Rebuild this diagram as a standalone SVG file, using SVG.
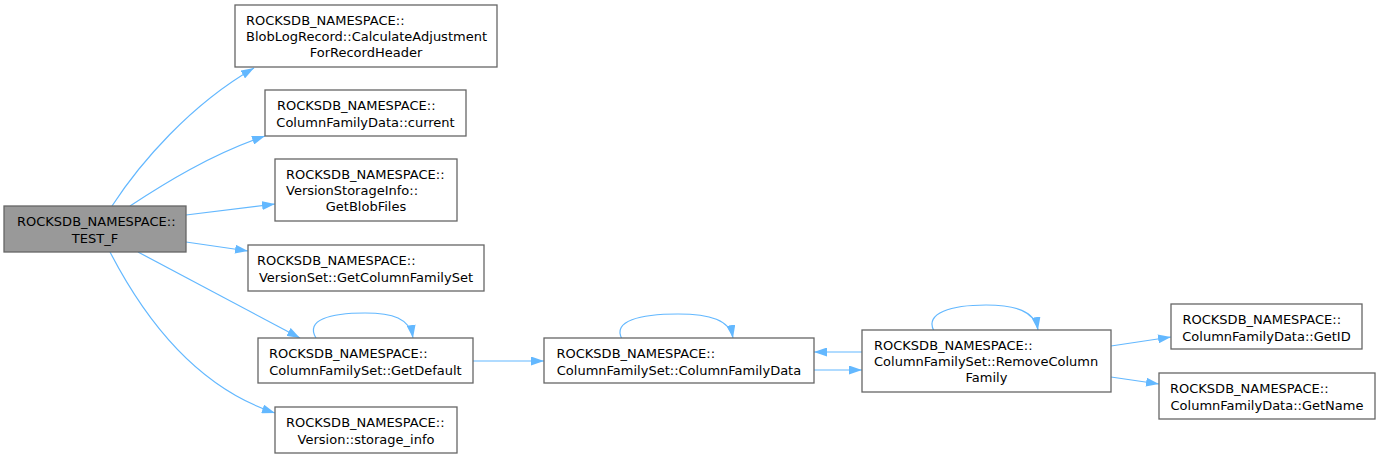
<svg xmlns="http://www.w3.org/2000/svg" width="1380" height="459" viewBox="0 0 1380 459">
<style>
.box{fill:#ffffff;stroke:#666666;stroke-width:1.3}
.root{fill:#999999;stroke:#666666;stroke-width:1.3}
text{font-family:"DejaVu Sans",sans-serif;font-size:13px;fill:#000000}
.c{text-anchor:middle}
.e{fill:none;stroke:#63b8ff;stroke-width:1.2}
</style>
<defs>
<marker id="ah" viewBox="0 0 13 9" refX="13" refY="4.5" markerWidth="13" markerHeight="9" markerUnits="userSpaceOnUse" orient="auto">
<path d="M0,0 L13,4.5 L0,9 z" fill="#63b8ff"/>
</marker>
</defs>
<rect width="1380" height="459" fill="#ffffff"/>
<g id="connectors">
<path class="e" marker-end="url(#ah)" d="M112,206 C140,163 190,105 254,68"/>
<path class="e" marker-end="url(#ah)" d="M130,206 C165,183 210,155 265,136"/>
<path class="e" marker-end="url(#ah)" d="M186,215 L275,204"/>
<path class="e" marker-end="url(#ah)" d="M186,242 L248,251"/>
<path class="e" marker-end="url(#ah)" d="M138,252 L300,338"/>
<path class="e" marker-end="url(#ah)" d="M110,252 C140,310 190,385 275,413"/>
<path class="e" marker-end="url(#ah)" d="M316,338 C305,320 330,313 365,313 C392,313 410,318 413,338"/>
<path class="e" marker-end="url(#ah)" d="M622,339 C612,321 640,314 678,314 C710,314 730,320 733,338"/>
<path class="e" marker-end="url(#ah)" d="M934,331 C924,313 952,305 986,305 C1015,305 1035,311 1038,330"/>
<path class="e" marker-end="url(#ah)" d="M473,361 L544,361"/>
<path class="e" marker-end="url(#ah)" d="M814,370 L862,370"/>
<path class="e" marker-end="url(#ah)" d="M862,352 L814,352"/>
<path class="e" marker-end="url(#ah)" d="M1111,346 L1171,337"/>
<path class="e" marker-end="url(#ah)" d="M1111,377 L1159,384"/>
</g>
<g id="node_test_f">
<rect class="root" x="4" y="206" width="182" height="46"/>
<text x="17" y="226">ROCKSDB_NAMESPACE::</text>
<text class="c" x="95" y="243">TEST_F</text>
</g>
<g id="node_calc_adj">
<rect class="box" x="235" y="5" width="262" height="62"/>
<text x="246" y="24.5">ROCKSDB_NAMESPACE::</text>
<text x="246" y="40.5">BlobLogRecord::CalculateAdjustment</text>
<text class="c" x="366" y="57">ForRecordHeader</text>
</g>
<g id="node_current">
<rect class="box" x="265" y="90" width="201" height="46"/>
<text x="277" y="110">ROCKSDB_NAMESPACE::</text>
<text class="c" x="365.5" y="127">ColumnFamilyData::current</text>
</g>
<g id="node_get_blob_files">
<rect class="box" x="275" y="159" width="182" height="62"/>
<text x="286" y="178.5">ROCKSDB_NAMESPACE::</text>
<text x="286" y="194.5">VersionStorageInfo::</text>
<text class="c" x="366" y="211">GetBlobFiles</text>
</g>
<g id="node_get_cfs">
<rect class="box" x="248" y="245" width="236" height="46"/>
<text x="257" y="265">ROCKSDB_NAMESPACE::</text>
<text class="c" x="366" y="282">VersionSet::GetColumnFamilySet</text>
</g>
<g id="node_get_default">
<rect class="box" x="258" y="338" width="215" height="45"/>
<text x="269" y="358">ROCKSDB_NAMESPACE::</text>
<text class="c" x="365.5" y="375">ColumnFamilySet::GetDefault</text>
</g>
<g id="node_storage_info">
<rect class="box" x="275" y="407" width="182" height="46"/>
<text x="286" y="427">ROCKSDB_NAMESPACE::</text>
<text class="c" x="366" y="444">Version::storage_info</text>
</g>
<g id="node_cfdata">
<rect class="box" x="544" y="338" width="270" height="45"/>
<text x="556.5" y="358">ROCKSDB_NAMESPACE::</text>
<text class="c" x="679" y="375">ColumnFamilySet::ColumnFamilyData</text>
</g>
<g id="node_remove_cf">
<rect class="box" x="862" y="330" width="249" height="62"/>
<text x="874" y="349.5">ROCKSDB_NAMESPACE::</text>
<text x="874" y="365.5">ColumnFamilySet::RemoveColumn</text>
<text class="c" x="986.5" y="382">Family</text>
</g>
<g id="node_get_id">
<rect class="box" x="1171" y="304" width="191" height="45"/>
<text x="1182.5" y="324">ROCKSDB_NAMESPACE::</text>
<text class="c" x="1266.5" y="341">ColumnFamilyData::GetID</text>
</g>
<g id="node_get_name">
<rect class="box" x="1159" y="373" width="216" height="46"/>
<text x="1170" y="393">ROCKSDB_NAMESPACE::</text>
<text class="c" x="1267" y="410">ColumnFamilyData::GetName</text>
</g>
</svg>
